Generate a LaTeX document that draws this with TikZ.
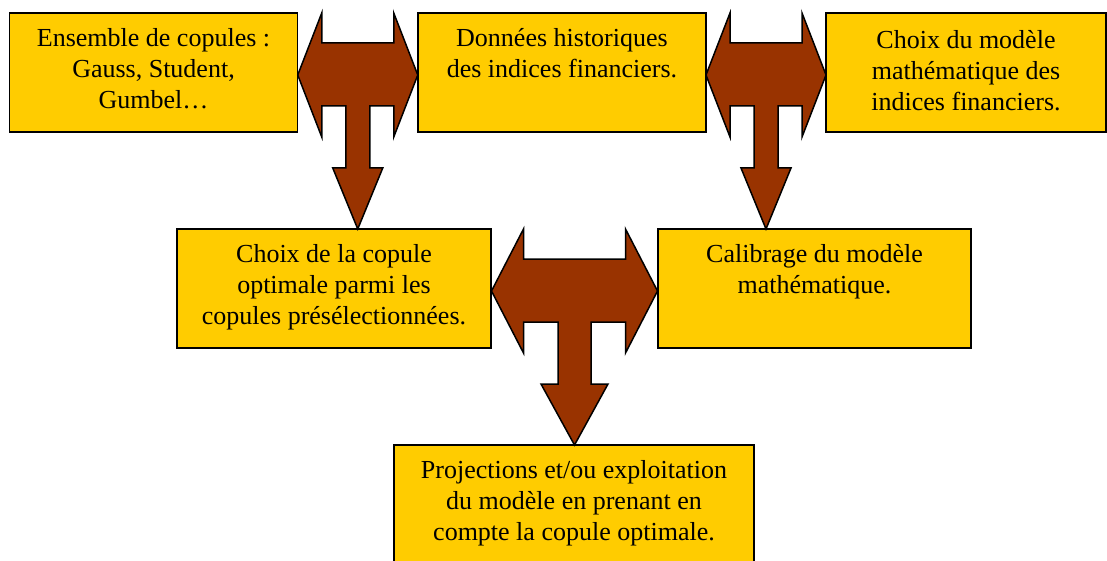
\documentclass[tikz,border=0pt]{standalone}
\usepackage{fontspec}
\setmainfont{Liberation Serif}
\usetikzlibrary{calc}
\definecolor{boxgold}{HTML}{FFCC00}
\definecolor{arrowbrown}{HTML}{993300}
\tikzset{
  box/.style={draw=black, line width=1.5pt, fill=boxgold, inner sep=0pt},
  boxtext/.style={anchor=north, inner sep=0pt, align=center, font=\fontsize{26}{31}\selectfont},
  blockarrow/.style={draw=black, line width=1.5pt, fill=arrowbrown, line join=miter},
}
% #1 centre coordinate, #2 half width, #3 head depth, #4 stem half width, #5 down-head half width
\newcommand\tarrowshape[5]{%
  \draw[blockarrow, shift={(#1)}]
    (-#2,0) -- (-#2+#3,-62) -- (-#2+#3,-32) -- (#2-#3,-32) -- (#2-#3,-62) -- (#2,0)
    -- (#2-#3,62) -- (#2-#3,31) -- (#4,31) -- (#4,93) -- (#5,93) -- (0,154)
    -- (-#5,93) -- (-#4,93) -- (-#4,31) -- (-#2+#3,31) -- (-#2+#3,62) -- cycle;
}
\begin{document}
\begin{tikzpicture}[x=1pt,y=-1pt]
\clip (0,0) rectangle (1107,561);
% boxes
\node[box, minimum width=288pt, minimum height=119pt] (A) at (153.5,72.5) {};
\node[box, minimum width=288pt, minimum height=119pt] (B) at (562,72.5) {};
\node[box, minimum width=280pt, minimum height=119pt] (C) at (966,72.5) {};
\node[box, minimum width=314pt, minimum height=119pt] (D) at (334,288.5) {};
\node[box, minimum width=313pt, minimum height=119pt] (E) at (814.5,288.5) {};
\node[box, minimum width=360pt, minimum height=125pt] (F) at (574,507.5) {};
% texts
\node[boxtext] (tA) at ($(A.north)+(0,16)$) {Ensemble de copules :\\Gauss, Student,\\Gumbel…};
\node[boxtext] (tB) at ($(B.north)+(0,16)$) {Données historiques\\des indices financiers.};
\node[boxtext] (tC) at ($(C.north)+(0,18)$) {Choix du modèle\\mathématique des\\indices financiers.};
\node[boxtext] (tD) at ($(D.north)+(0,16)$) {Choix de la copule\\optimale parmi les\\copules présélectionnées.};
\node[boxtext] (tE) at ($(E.north)+(0,16)$) {Calibrage du modèle\\mathématique.};
\node[boxtext] (tF) at ($(F.north)+(0,16)$) {Projections et/ou exploitation\\du modèle en prenant en\\compte la copule optimale.};
% block arrows
\coordinate (c1) at ($(A.east)!0.5!(B.west)+(0,2.5)$);
\coordinate (c2) at ($(B.east)!0.5!(C.west)+(0,2.5)$);
\coordinate (c3) at ($(D.east)!0.5!(E.west)+(0,2.5)$);
\tarrowshape{c1}{60}{24}{12}{25}
\tarrowshape{c2}{60}{24}{12}{25}
\tarrowshape{c3}{83}{32}{16.5}{33.5}
\end{tikzpicture}
\end{document}
